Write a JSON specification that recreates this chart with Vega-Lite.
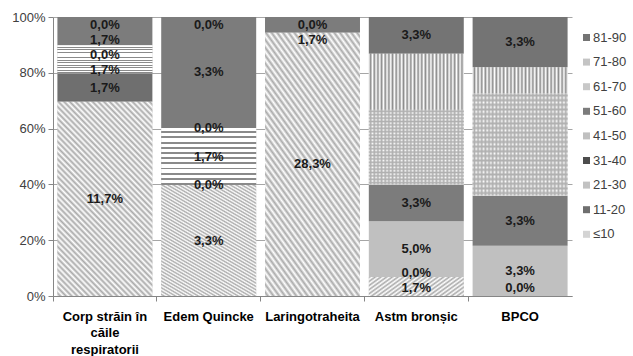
{
  "$schema": "https://vega.github.io/schema/vega-lite/v6.json",
  "width": 519,
  "height": 279,
  "autosize": {"type": "none"},
  "padding": {"left": 53, "top": 17, "right": 61, "bottom": 60},
  "data": {
    "values": [
      {"c": "Corp străin în căile respiratorii", "s": "≤10", "i": 0, "v": 0.117},
      {"c": "Corp străin în căile respiratorii", "s": "11-20", "i": 1, "v": 0.017},
      {"c": "Corp străin în căile respiratorii", "s": "21-30", "i": 2, "v": 0.017},
      {"c": "Corp străin în căile respiratorii", "s": "31-40", "i": 3, "v": 0},
      {"c": "Corp străin în căile respiratorii", "s": "51-60", "i": 5, "v": 0.017},
      {"c": "Corp străin în căile respiratorii", "s": "81-90", "i": 8, "v": 0},
      {"c": "Edem Quincke", "s": "≤10", "i": 0, "v": 0.033},
      {"c": "Edem Quincke", "s": "11-20", "i": 1, "v": 0},
      {"c": "Edem Quincke", "s": "21-30", "i": 2, "v": 0.017},
      {"c": "Edem Quincke", "s": "31-40", "i": 3, "v": 0},
      {"c": "Edem Quincke", "s": "51-60", "i": 5, "v": 0.033},
      {"c": "Edem Quincke", "s": "81-90", "i": 8, "v": 0},
      {"c": "Laringotraheita", "s": "≤10", "i": 0, "v": 0.283},
      {"c": "Laringotraheita", "s": "51-60", "i": 5, "v": 0.017},
      {"c": "Laringotraheita", "s": "81-90", "i": 8, "v": 0},
      {"c": "Astm bronșic", "s": "≤10", "i": 0, "v": 0.017},
      {"c": "Astm bronșic", "s": "11-20", "i": 1, "v": 0},
      {"c": "Astm bronșic", "s": "41-50", "i": 4, "v": 0.05},
      {"c": "Astm bronșic", "s": "51-60", "i": 5, "v": 0.033},
      {"c": "Astm bronșic", "s": "61-70", "i": 6, "v": 0.067, "lbl": false},
      {"c": "Astm bronșic", "s": "71-80", "i": 7, "v": 0.05, "lbl": false},
      {"c": "Astm bronșic", "s": "81-90", "i": 8, "v": 0.033},
      {"c": "BPCO", "s": "≤10", "i": 0, "v": 0},
      {"c": "BPCO", "s": "41-50", "i": 4, "v": 0.033},
      {"c": "BPCO", "s": "51-60", "i": 5, "v": 0.033},
      {"c": "BPCO", "s": "61-70", "i": 6, "v": 0.067, "lbl": false},
      {"c": "BPCO", "s": "71-80", "i": 7, "v": 0.017, "lbl": false},
      {"c": "BPCO", "s": "81-90", "i": 8, "v": 0.033}
    ]
  },
  "transform": [
    {"stack": "v", "groupby": ["c"], "sort": [{"field": "i", "order": "ascending"}], "as": ["y0", "y1"], "offset": "normalize"}
  ],
  "encoding": {
    "x": {
      "field": "c", "type": "nominal",
      "sort": ["Corp străin în căile respiratorii", "Edem Quincke", "Laringotraheita", "Astm bronșic", "BPCO"],
      "scale": {"paddingInner": 0.085, "paddingOuter": 0.0425},
      "axis": {
        "title": null, "labelAngle": 0, "bandPosition": -0.046,
        "labelExpr": "datum.value == 'Corp străin în căile respiratorii' ? ['Corp străin în', 'căile', 'respiratorii'] : datum.value",
        "labelFontSize": 13, "labelFontWeight": "bold", "labelColor": "#000000",
        "labelPadding": 9, "labelLineHeight": 16.5, "tickSize": 5,
        "tickColor": "#868686", "domainColor": "#868686", "grid": false
      }
    },
    "y": {
      "field": "y0", "type": "quantitative",
      "scale": {"domain": [0, 1], "nice": false},
      "axis": {
        "title": null, "values": [0, 0.2, 0.4, 0.6, 0.8, 1], "format": ".0%",
        "grid": true, "gridColor": "#a6a6a6", "domainColor": "#868686", "tickColor": "#868686",
        "tickSize": 5, "labelPadding": 3, "labelFontSize": 13, "labelColor": "#404040"
      }
    },
    "y2": {"field": "y1"}
  },
  "layer": [
    {
      "mark": {"type": "bar"},
      "encoding": {
        "color": {
          "field": "s", "type": "nominal",
          "scale": {
            "domain": ["81-90", "71-80", "61-70", "51-60", "41-50", "31-40", "21-30", "11-20", "≤10"],
            "range": ["#747474", "#c4c4c4", "#c8c8c8", "#7c7c7c", "#c0c0c0", "#4d4d4d", "#c2c2c2", "#6f6f6f", "#d4d4d4"]
          },
          "legend": {
            "orient": "none", "legendX": 527, "legendY": 14, "title": null,
            "symbolType": "square", "symbolSize": 49, "symbolStrokeWidth": 0,
            "labelFontSize": 13, "labelColor": "#404040", "rowPadding": 10.6, "labelOffset": 0
          }
        }
      }
    },
    {
      "transform": [{"filter": "datum.s == '≤10'"}],
      "mark": {"type": "bar", "fill": {"gradient": "linear", "x1": 0, "y1": 1, "x2": 0.6, "y2": -0.2, "stops": [
        {"offset": 0, "color": "#fff"}, {"offset": 0.01, "color": "#aaa"}, {"offset": 0.02, "color": "#fff"}, {"offset": 0.03, "color": "#aaa"},
        {"offset": 0.04, "color": "#fff"}, {"offset": 0.05, "color": "#aaa"}, {"offset": 0.06, "color": "#fff"}, {"offset": 0.07, "color": "#aaa"},
        {"offset": 0.08, "color": "#fff"}, {"offset": 0.09, "color": "#aaa"}, {"offset": 0.1, "color": "#fff"}, {"offset": 0.11, "color": "#aaa"},
        {"offset": 0.12, "color": "#fff"}, {"offset": 0.13, "color": "#aaa"}, {"offset": 0.14, "color": "#fff"}, {"offset": 0.15, "color": "#aaa"},
        {"offset": 0.16, "color": "#fff"}, {"offset": 0.17, "color": "#aaa"}, {"offset": 0.18, "color": "#fff"}, {"offset": 0.19, "color": "#aaa"},
        {"offset": 0.2, "color": "#fff"}, {"offset": 0.21, "color": "#aaa"}, {"offset": 0.22, "color": "#fff"}, {"offset": 0.23, "color": "#aaa"},
        {"offset": 0.24, "color": "#fff"}, {"offset": 0.25, "color": "#aaa"}, {"offset": 0.26, "color": "#fff"}, {"offset": 0.27, "color": "#aaa"},
        {"offset": 0.28, "color": "#fff"}, {"offset": 0.29, "color": "#aaa"}, {"offset": 0.3, "color": "#fff"}, {"offset": 0.31, "color": "#aaa"},
        {"offset": 0.32, "color": "#fff"}, {"offset": 0.33, "color": "#aaa"}, {"offset": 0.34, "color": "#fff"}, {"offset": 0.35, "color": "#aaa"},
        {"offset": 0.36, "color": "#fff"}, {"offset": 0.37, "color": "#aaa"}, {"offset": 0.38, "color": "#fff"}, {"offset": 0.39, "color": "#aaa"},
        {"offset": 0.4, "color": "#fff"}, {"offset": 0.41, "color": "#aaa"}, {"offset": 0.42, "color": "#fff"}, {"offset": 0.43, "color": "#aaa"},
        {"offset": 0.44, "color": "#fff"}, {"offset": 0.45, "color": "#aaa"}, {"offset": 0.46, "color": "#fff"}, {"offset": 0.47, "color": "#aaa"},
        {"offset": 0.48, "color": "#fff"}, {"offset": 0.49, "color": "#aaa"}, {"offset": 0.5, "color": "#fff"}, {"offset": 0.51, "color": "#aaa"},
        {"offset": 0.52, "color": "#fff"}, {"offset": 0.53, "color": "#aaa"}, {"offset": 0.54, "color": "#fff"}, {"offset": 0.55, "color": "#aaa"},
        {"offset": 0.56, "color": "#fff"}, {"offset": 0.57, "color": "#aaa"}, {"offset": 0.58, "color": "#fff"}, {"offset": 0.59, "color": "#aaa"},
        {"offset": 0.6, "color": "#fff"}, {"offset": 0.61, "color": "#aaa"}, {"offset": 0.62, "color": "#fff"}, {"offset": 0.63, "color": "#aaa"},
        {"offset": 0.64, "color": "#fff"}, {"offset": 0.65, "color": "#aaa"}, {"offset": 0.66, "color": "#fff"}, {"offset": 0.67, "color": "#aaa"},
        {"offset": 0.68, "color": "#fff"}, {"offset": 0.69, "color": "#aaa"}, {"offset": 0.7, "color": "#fff"}, {"offset": 0.71, "color": "#aaa"},
        {"offset": 0.72, "color": "#fff"}, {"offset": 0.73, "color": "#aaa"}, {"offset": 0.74, "color": "#fff"}, {"offset": 0.75, "color": "#aaa"},
        {"offset": 0.76, "color": "#fff"}, {"offset": 0.77, "color": "#aaa"}, {"offset": 0.78, "color": "#fff"}, {"offset": 0.79, "color": "#aaa"},
        {"offset": 0.8, "color": "#fff"}, {"offset": 0.81, "color": "#aaa"}, {"offset": 0.82, "color": "#fff"}, {"offset": 0.83, "color": "#aaa"},
        {"offset": 0.84, "color": "#fff"}, {"offset": 0.85, "color": "#aaa"}, {"offset": 0.86, "color": "#fff"}, {"offset": 0.87, "color": "#aaa"},
        {"offset": 0.88, "color": "#fff"}, {"offset": 0.89, "color": "#aaa"}, {"offset": 0.9, "color": "#fff"}, {"offset": 0.91, "color": "#aaa"},
        {"offset": 0.92, "color": "#fff"}, {"offset": 0.93, "color": "#aaa"}, {"offset": 0.94, "color": "#fff"}, {"offset": 0.95, "color": "#aaa"},
        {"offset": 0.96, "color": "#fff"}, {"offset": 0.97, "color": "#aaa"}, {"offset": 0.98, "color": "#fff"}, {"offset": 0.99, "color": "#aaa"},
        {"offset": 1, "color": "#fff"}
      ]}}
    },
    {
      "transform": [{"filter": "datum.s == '21-30'"}],
      "mark": {"type": "bar", "fill": {"gradient": "linear", "x1": 0, "y1": 0, "x2": 0, "y2": 1, "stops": [
        {"offset": 0, "color": "#fff"}, {"offset": 0.0564, "color": "#fff"}, {"offset": 0.0564, "color": "#8a8a8a"}, {"offset": 0.0909, "color": "#8a8a8a"},
        {"offset": 0.0909, "color": "#fff"}, {"offset": 0.1473, "color": "#fff"}, {"offset": 0.1473, "color": "#8a8a8a"}, {"offset": 0.1818, "color": "#8a8a8a"},
        {"offset": 0.1818, "color": "#fff"}, {"offset": 0.2382, "color": "#fff"}, {"offset": 0.2382, "color": "#8a8a8a"}, {"offset": 0.2727, "color": "#8a8a8a"},
        {"offset": 0.2727, "color": "#fff"}, {"offset": 0.3291, "color": "#fff"}, {"offset": 0.3291, "color": "#8a8a8a"}, {"offset": 0.3636, "color": "#8a8a8a"},
        {"offset": 0.3636, "color": "#fff"}, {"offset": 0.42, "color": "#fff"}, {"offset": 0.42, "color": "#8a8a8a"}, {"offset": 0.4545, "color": "#8a8a8a"},
        {"offset": 0.4545, "color": "#fff"}, {"offset": 0.5109, "color": "#fff"}, {"offset": 0.5109, "color": "#8a8a8a"}, {"offset": 0.5455, "color": "#8a8a8a"},
        {"offset": 0.5455, "color": "#fff"}, {"offset": 0.6018, "color": "#fff"}, {"offset": 0.6018, "color": "#8a8a8a"}, {"offset": 0.6364, "color": "#8a8a8a"},
        {"offset": 0.6364, "color": "#fff"}, {"offset": 0.6927, "color": "#fff"}, {"offset": 0.6927, "color": "#8a8a8a"}, {"offset": 0.7273, "color": "#8a8a8a"},
        {"offset": 0.7273, "color": "#fff"}, {"offset": 0.7836, "color": "#fff"}, {"offset": 0.7836, "color": "#8a8a8a"}, {"offset": 0.8182, "color": "#8a8a8a"},
        {"offset": 0.8182, "color": "#fff"}, {"offset": 0.8745, "color": "#fff"}, {"offset": 0.8745, "color": "#8a8a8a"}, {"offset": 0.9091, "color": "#8a8a8a"},
        {"offset": 0.9091, "color": "#fff"}, {"offset": 0.9655, "color": "#fff"}, {"offset": 0.9655, "color": "#8a8a8a"}, {"offset": 1, "color": "#8a8a8a"}
      ]}}
    },
    {
      "transform": [{"filter": "datum.s == '61-70'"}],
      "mark": {"type": "bar", "fill": {"gradient": "linear", "x1": 0, "y1": 0, "x2": 0, "y2": 1, "stops": [
        {"offset": 0, "color": "#fff"}, {"offset": 0.0227, "color": "#b0b0b0"}, {"offset": 0.0455, "color": "#fff"}, {"offset": 0.0682, "color": "#b0b0b0"},
        {"offset": 0.0909, "color": "#fff"}, {"offset": 0.1136, "color": "#b0b0b0"}, {"offset": 0.1364, "color": "#fff"}, {"offset": 0.1591, "color": "#b0b0b0"},
        {"offset": 0.1818, "color": "#fff"}, {"offset": 0.2045, "color": "#b0b0b0"}, {"offset": 0.2273, "color": "#fff"}, {"offset": 0.25, "color": "#b0b0b0"},
        {"offset": 0.2727, "color": "#fff"}, {"offset": 0.2955, "color": "#b0b0b0"}, {"offset": 0.3182, "color": "#fff"}, {"offset": 0.3409, "color": "#b0b0b0"},
        {"offset": 0.3636, "color": "#fff"}, {"offset": 0.3864, "color": "#b0b0b0"}, {"offset": 0.4091, "color": "#fff"}, {"offset": 0.4318, "color": "#b0b0b0"},
        {"offset": 0.4545, "color": "#fff"}, {"offset": 0.4773, "color": "#b0b0b0"}, {"offset": 0.5, "color": "#fff"}, {"offset": 0.5227, "color": "#b0b0b0"},
        {"offset": 0.5455, "color": "#fff"}, {"offset": 0.5682, "color": "#b0b0b0"}, {"offset": 0.5909, "color": "#fff"}, {"offset": 0.6136, "color": "#b0b0b0"},
        {"offset": 0.6364, "color": "#fff"}, {"offset": 0.6591, "color": "#b0b0b0"}, {"offset": 0.6818, "color": "#fff"}, {"offset": 0.7045, "color": "#b0b0b0"},
        {"offset": 0.7273, "color": "#fff"}, {"offset": 0.75, "color": "#b0b0b0"}, {"offset": 0.7727, "color": "#fff"}, {"offset": 0.7955, "color": "#b0b0b0"},
        {"offset": 0.8182, "color": "#fff"}, {"offset": 0.8409, "color": "#b0b0b0"}, {"offset": 0.8636, "color": "#fff"}, {"offset": 0.8864, "color": "#b0b0b0"},
        {"offset": 0.9091, "color": "#fff"}, {"offset": 0.9318, "color": "#b0b0b0"}, {"offset": 0.9545, "color": "#fff"}, {"offset": 0.9773, "color": "#b0b0b0"},
        {"offset": 1, "color": "#fff"}
      ]}}
    },
    {
      "transform": [{"filter": "datum.s == '61-70'"}],
      "mark": {"type": "bar", "fill": {"gradient": "linear", "x1": 0, "y1": 0, "x2": 1, "y2": 0, "stops": [
        {"offset": 0, "color": "rgba(176,176,176,0)"}, {"offset": 0.0192, "color": "#b0b0b0"}, {"offset": 0.0385, "color": "rgba(176,176,176,0)"}, {"offset": 0.0577, "color": "#b0b0b0"},
        {"offset": 0.0769, "color": "rgba(176,176,176,0)"}, {"offset": 0.0962, "color": "#b0b0b0"}, {"offset": 0.1154, "color": "rgba(176,176,176,0)"}, {"offset": 0.1346, "color": "#b0b0b0"},
        {"offset": 0.1538, "color": "rgba(176,176,176,0)"}, {"offset": 0.1731, "color": "#b0b0b0"}, {"offset": 0.1923, "color": "rgba(176,176,176,0)"}, {"offset": 0.2115, "color": "#b0b0b0"},
        {"offset": 0.2308, "color": "rgba(176,176,176,0)"}, {"offset": 0.25, "color": "#b0b0b0"}, {"offset": 0.2692, "color": "rgba(176,176,176,0)"}, {"offset": 0.2885, "color": "#b0b0b0"},
        {"offset": 0.3077, "color": "rgba(176,176,176,0)"}, {"offset": 0.3269, "color": "#b0b0b0"}, {"offset": 0.3462, "color": "rgba(176,176,176,0)"}, {"offset": 0.3654, "color": "#b0b0b0"},
        {"offset": 0.3846, "color": "rgba(176,176,176,0)"}, {"offset": 0.4038, "color": "#b0b0b0"}, {"offset": 0.4231, "color": "rgba(176,176,176,0)"}, {"offset": 0.4423, "color": "#b0b0b0"},
        {"offset": 0.4615, "color": "rgba(176,176,176,0)"}, {"offset": 0.4808, "color": "#b0b0b0"}, {"offset": 0.5, "color": "rgba(176,176,176,0)"}, {"offset": 0.5192, "color": "#b0b0b0"},
        {"offset": 0.5385, "color": "rgba(176,176,176,0)"}, {"offset": 0.5577, "color": "#b0b0b0"}, {"offset": 0.5769, "color": "rgba(176,176,176,0)"}, {"offset": 0.5962, "color": "#b0b0b0"},
        {"offset": 0.6154, "color": "rgba(176,176,176,0)"}, {"offset": 0.6346, "color": "#b0b0b0"}, {"offset": 0.6538, "color": "rgba(176,176,176,0)"}, {"offset": 0.6731, "color": "#b0b0b0"},
        {"offset": 0.6923, "color": "rgba(176,176,176,0)"}, {"offset": 0.7115, "color": "#b0b0b0"}, {"offset": 0.7308, "color": "rgba(176,176,176,0)"}, {"offset": 0.75, "color": "#b0b0b0"},
        {"offset": 0.7692, "color": "rgba(176,176,176,0)"}, {"offset": 0.7885, "color": "#b0b0b0"}, {"offset": 0.8077, "color": "rgba(176,176,176,0)"}, {"offset": 0.8269, "color": "#b0b0b0"},
        {"offset": 0.8462, "color": "rgba(176,176,176,0)"}, {"offset": 0.8654, "color": "#b0b0b0"}, {"offset": 0.8846, "color": "rgba(176,176,176,0)"}, {"offset": 0.9038, "color": "#b0b0b0"},
        {"offset": 0.9231, "color": "rgba(176,176,176,0)"}, {"offset": 0.9423, "color": "#b0b0b0"}, {"offset": 0.9615, "color": "rgba(176,176,176,0)"}, {"offset": 0.9808, "color": "#b0b0b0"},
        {"offset": 1, "color": "rgba(176,176,176,0)"}
      ]}}
    },
    {
      "transform": [{"filter": "datum.s == '71-80'"}],
      "mark": {"type": "bar", "fill": {"gradient": "linear", "x1": 0, "y1": 0, "x2": 1, "y2": 0, "stops": [
        {"offset": 0, "color": "#fff"}, {"offset": 0.0192, "color": "#8c8c8c"}, {"offset": 0.0385, "color": "#fff"}, {"offset": 0.0577, "color": "#8c8c8c"},
        {"offset": 0.0769, "color": "#fff"}, {"offset": 0.0962, "color": "#8c8c8c"}, {"offset": 0.1154, "color": "#fff"}, {"offset": 0.1346, "color": "#8c8c8c"},
        {"offset": 0.1538, "color": "#fff"}, {"offset": 0.1731, "color": "#8c8c8c"}, {"offset": 0.1923, "color": "#fff"}, {"offset": 0.2115, "color": "#8c8c8c"},
        {"offset": 0.2308, "color": "#fff"}, {"offset": 0.25, "color": "#8c8c8c"}, {"offset": 0.2692, "color": "#fff"}, {"offset": 0.2885, "color": "#8c8c8c"},
        {"offset": 0.3077, "color": "#fff"}, {"offset": 0.3269, "color": "#8c8c8c"}, {"offset": 0.3462, "color": "#fff"}, {"offset": 0.3654, "color": "#8c8c8c"},
        {"offset": 0.3846, "color": "#fff"}, {"offset": 0.4038, "color": "#8c8c8c"}, {"offset": 0.4231, "color": "#fff"}, {"offset": 0.4423, "color": "#8c8c8c"},
        {"offset": 0.4615, "color": "#fff"}, {"offset": 0.4808, "color": "#8c8c8c"}, {"offset": 0.5, "color": "#fff"}, {"offset": 0.5192, "color": "#8c8c8c"},
        {"offset": 0.5385, "color": "#fff"}, {"offset": 0.5577, "color": "#8c8c8c"}, {"offset": 0.5769, "color": "#fff"}, {"offset": 0.5962, "color": "#8c8c8c"},
        {"offset": 0.6154, "color": "#fff"}, {"offset": 0.6346, "color": "#8c8c8c"}, {"offset": 0.6538, "color": "#fff"}, {"offset": 0.6731, "color": "#8c8c8c"},
        {"offset": 0.6923, "color": "#fff"}, {"offset": 0.7115, "color": "#8c8c8c"}, {"offset": 0.7308, "color": "#fff"}, {"offset": 0.75, "color": "#8c8c8c"},
        {"offset": 0.7692, "color": "#fff"}, {"offset": 0.7885, "color": "#8c8c8c"}, {"offset": 0.8077, "color": "#fff"}, {"offset": 0.8269, "color": "#8c8c8c"},
        {"offset": 0.8462, "color": "#fff"}, {"offset": 0.8654, "color": "#8c8c8c"}, {"offset": 0.8846, "color": "#fff"}, {"offset": 0.9038, "color": "#8c8c8c"},
        {"offset": 0.9231, "color": "#fff"}, {"offset": 0.9423, "color": "#8c8c8c"}, {"offset": 0.9615, "color": "#fff"}, {"offset": 0.9808, "color": "#8c8c8c"},
        {"offset": 1, "color": "#fff"}
      ]}}
    },
    {
      "transform": [
        {"filter": "datum.lbl !== false"},
        {"calculate": "(datum.y0 + datum.y1) / 2", "as": "ym"},
        {"calculate": "min(datum.ym, 0.971)", "as": "q"},
        {"window": [{"op": "row_number", "as": "k"}], "groupby": ["c"], "sort": [{"field": "ym", "order": "descending"}, {"field": "i", "order": "descending"}]},
        {"calculate": "datum.q + datum.k * 0.054", "as": "a"},
        {"window": [{"op": "min", "field": "a", "as": "m"}], "groupby": ["c"], "sort": [{"field": "k", "order": "ascending"}], "frame": [null, 0]},
        {"calculate": "max(datum.m - datum.k * 0.054, 0.029) + datum.k * 0.054", "as": "b"},
        {"window": [{"op": "max", "field": "b", "as": "mb"}], "groupby": ["c"], "sort": [{"field": "k", "order": "ascending"}], "frame": [0, null]},
        {"calculate": "datum.mb - datum.k * 0.054", "as": "yl"}
      ],
      "mark": {"type": "text", "fontWeight": "bold", "fontSize": 13, "color": "#1a1a1a"},
      "encoding": {
        "y": {"field": "yl", "type": "quantitative"},
        "y2": null,
        "text": {"field": "v", "type": "quantitative", "format": ".1%"}
      }
    }
  ],
  "config": {
    "font": "Liberation Sans",
    "view": {"stroke": null},
    "locale": {"number": {"decimal": ",", "thousands": ".", "grouping": [3], "currency": ["", " €"]}}
  }
}
